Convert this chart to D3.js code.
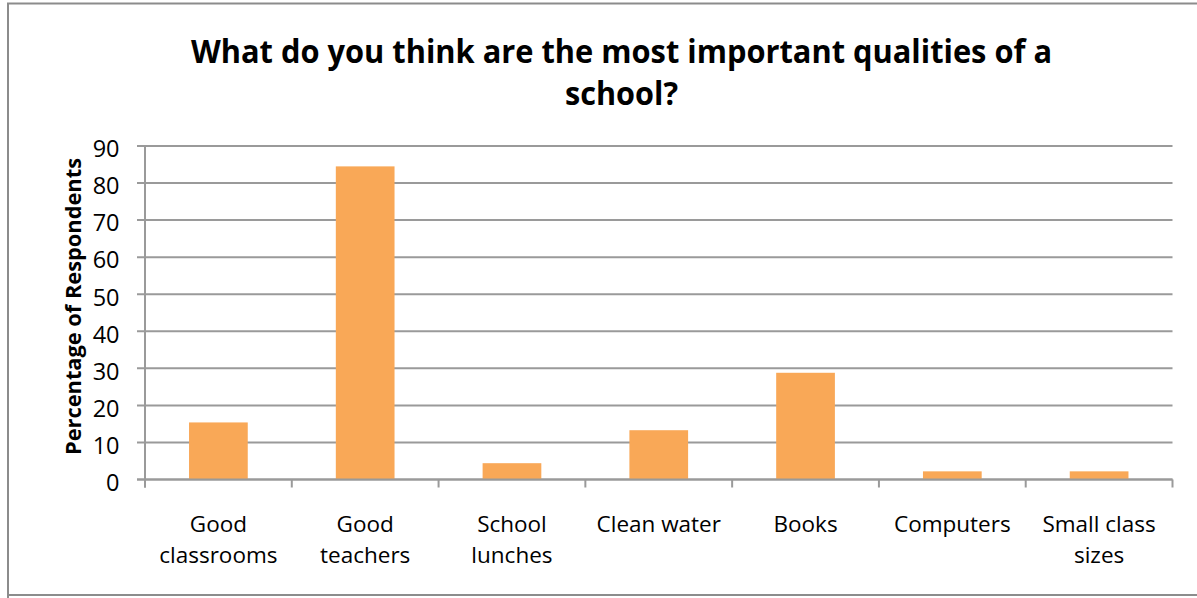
<!DOCTYPE html>
<html><head><meta charset="utf-8">
<script src="https://cdn.jsdelivr.net/npm/d3@7"></script>
<style>body{margin:0;background:#fff;} svg{display:block;}</style>
</head><body>
<svg id="chart" width="1197" height="598"></svg>
<script>
const categories = [["Good","classrooms"],["Good","teachers"],["School","lunches"],["Clean water"],["Books"],["Computers"],["Small class","sizes"]];
const values = [15.4, 84.5, 4.4, 13.3, 28.8, 2.2, 2.2];
const yTicks = [0,10,20,30,40,50,60,70,80,90];
const titleLines = ["What do you think are the most important qualities of a","school?"];
const yLabel = "Percentage of Respondents";

(function(){
const svg = d3.select("#chart");
const W = 1197, H = 598;
const pLeft = 145, pRight = 1172.5, pTop = 146, pBottom = 479.5;
const font = "'Open Sans', sans-serif";

// frame
svg.append("path").attr("d", `M8,${H+5} L8,3.5 L${W+5},3.5`).attr("fill","none").attr("stroke","#8c8c8c").attr("stroke-width",2);
svg.append("path").attr("d", `M8,595 L${W+5},595`).attr("fill","none").attr("stroke","#8c8c8c").attr("stroke-width",2);

const x = d3.scaleBand().domain(d3.range(categories.length)).range([pLeft, pRight]).padding(0);
const y = d3.scaleLinear().domain([0, 90]).range([pBottom, pTop]);

// gridlines
svg.append("g").selectAll("line").data(yTicks).join("line")
  .attr("x1", pLeft - 8).attr("x2", pRight)
  .attr("y1", d => y(d)).attr("y2", d => y(d))
  .attr("stroke", "#9a9a9a").attr("stroke-width", 2);

// bars
const bw = x.bandwidth() * 0.4;
svg.append("g").selectAll("rect").data(values).join("rect")
  .attr("x", (d,i) => x(i) + x.bandwidth()/2 - bw/2)
  .attr("y", d => y(d))
  .attr("width", bw)
  .attr("height", d => y(0) - y(d))
  .attr("fill", "#f9a857");

// y axis line
svg.append("line").attr("x1", pLeft).attr("x2", pLeft).attr("y1", pTop).attr("y2", pBottom + 8)
  .attr("stroke", "#9a9a9a").attr("stroke-width", 2);
// x axis line
svg.append("line").attr("x1", pLeft - 8).attr("x2", pRight).attr("y1", pBottom).attr("y2", pBottom)
  .attr("stroke", "#9a9a9a").attr("stroke-width", 2);
// x ticks at band boundaries
const bounds = d3.range(categories.length).map(i => x(i)).concat([pRight]);
svg.append("g").selectAll("line").data(bounds).join("line")
  .attr("x1", d => d).attr("x2", d => d).attr("y1", pBottom).attr("y2", pBottom + 8)
  .attr("stroke", "#9a9a9a").attr("stroke-width", 2);

// y tick labels
svg.append("g").selectAll("text").data(yTicks).join("text")
  .attr("x", 119.5).attr("y", d => y(d) + 11.3)
  .attr("text-anchor", "end").attr("font-family", font).attr("font-size", 23.5).attr("fill", "#000")
  .text(d => d);

// category labels
const cl = svg.append("g").selectAll("text").data(categories).join("text")
  .attr("text-anchor", "middle").attr("font-family", font).attr("font-size", 22.5).attr("fill", "#000");
cl.each(function(d, i) {
  const t = d3.select(this);
  d.forEach((line, j) => {
    t.append("tspan").attr("x", x(i) + x.bandwidth()/2).attr("y", 531.5 + j*31.5).text(line);
  });
});

// y axis title
svg.append("text").attr("transform", `translate(80.5,306.5) rotate(-90)`)
  .attr("text-anchor", "middle").attr("font-family", font).attr("font-size", 22).attr("font-weight", "bold")
  .attr("textLength", 297).attr("lengthAdjust", "spacingAndGlyphs")
  .text(yLabel);

// title
const tLen = [861, 113];
svg.append("g").selectAll("text").data(titleLines).join("text")
  .attr("x", 621.5).attr("y", (d,i) => 62.7 + i*42.5)
  .attr("text-anchor", "middle").attr("font-family", font).attr("font-size", 33).attr("font-weight", "bold")
  .attr("textLength", (d,i) => tLen[i]).attr("lengthAdjust", "spacingAndGlyphs")
  .text(d => d);
})();
</script>
</body></html>
